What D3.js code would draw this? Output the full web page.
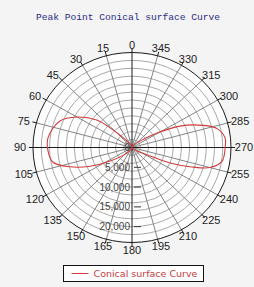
<!DOCTYPE html>
<html>
<head>
<meta charset="utf-8">
<script src="https://cdn.jsdelivr.net/npm/d3@7"></script>
<style>
  html, body { margin: 0; padding: 0; background: #f4f4f4; }
  #chart { width: 254px; height: 287px; }
</style>
</head>
<body>
<div id="chart"></div>
<script>
// angle labels around the rim (degrees, counter-clockwise from top)
const angleLabels = [0, 15, 30, 45, 60, 75, 90, 105, 120, 135, 150, 165, 180, 195, 210, 225, 240, 255, 270, 285, 300, 315, 330, 345];
// grid rings and radial axis labels
const gridRings = [2000, 4000, 6000, 8000, 10000, 12000, 14000, 16000, 18000, 20000, 22000, 24000];
const radialTicks = [0, 5000, 10000, 15000, 20000];
// curve
const curveAngles = [0, 15, 30, 36, 46, 51, 60, 69, 83, 92, 101, 108, 115, 123, 139, 155, 170, 180,
                     195, 215, 234, 244, 247, 251, 255, 261, 270, 276, 283, 288, 295, 301, 310, 325, 345];
const curveValues = [0, 300, 1200, 2000, 6400, 11000, 15400, 18700, 20500, 20400, 19500, 15800, 11200, 6300, 1800, 500, 200, 0,
                     200, 500, 1500, 4900, 10000, 14900, 19600, 22100, 22600, 22700, 21200, 18100, 12800, 7100, 2500, 800, 200];

class PolarChart {

    constructor(parentElement) {
        this.parentElement = parentElement
        this.initVis()
    }

    initVis() {
        let vis = this;

        vis.width = 254;
        vis.height = 287;
        vis.cx = 132;
        vis.cy = 147.5;
        vis.rx = 99;
        vis.ry = 95;

        vis.svg = d3.select("#" + vis.parentElement).append("svg")
            .attr("width", vis.width)
            .attr("height", vis.height);

        vis.r = d3.scaleLinear().domain([0, 24000]).range([0, 1]);
        vis.rad = d => d * Math.PI / 180;
        vis.px = (a, v) => vis.cx - vis.rx * vis.r(v) * Math.sin(vis.rad(a));
        vis.py = (a, v) => vis.cy - vis.ry * vis.r(v) * Math.cos(vis.rad(a));

        // Title
        vis.svg.append("text")
            .attr("x", 128)
            .attr("y", 20)
            .attr("text-anchor", "middle")
            .attr("font-family", "Liberation Mono, monospace")
            .attr("font-size", 9.6)
            .attr("fill", "#2a2a8c")
            .text("Peak Point Conical surface Curve");

        // plot background
        vis.svg.append("ellipse")
            .attr("cx", vis.cx).attr("cy", vis.cy)
            .attr("rx", vis.rx).attr("ry", vis.ry)
            .attr("fill", "#ffffff");

        // rings
        vis.svg.selectAll(".ring").data(gridRings.slice(0, -1)).enter().append("ellipse")
            .attr("class", "ring")
            .attr("cx", vis.cx).attr("cy", vis.cy)
            .attr("rx", d => vis.rx * vis.r(d))
            .attr("ry", d => vis.ry * vis.r(d))
            .attr("fill", "none")
            .attr("stroke", "#a8a8a8")
            .attr("stroke-width", 1);

        // spokes
        vis.svg.selectAll(".spoke").data(angleLabels.filter(a => a % 90 != 0)).enter().append("line")
            .attr("class", "spoke")
            .attr("x1", vis.cx).attr("y1", vis.cy)
            .attr("x2", d => vis.px(d, 24000))
            .attr("y2", d => vis.py(d, 24000))
            .attr("stroke", "#858585")
            .attr("stroke-width", 1);

        // main axes
        vis.svg.selectAll(".axis").data([0, 90]).enter().append("line")
            .attr("class", "axis")
            .attr("x1", d => vis.px(d, 24000))
            .attr("y1", d => vis.py(d, 24000))
            .attr("x2", d => vis.px(d + 180, 24000))
            .attr("y2", d => vis.py(d + 180, 24000))
            .attr("stroke", "#1a1a1a")
            .attr("stroke-width", 1);

        // outer ring + rim ticks
        vis.svg.append("ellipse")
            .attr("cx", vis.cx).attr("cy", vis.cy)
            .attr("rx", vis.rx).attr("ry", vis.ry)
            .attr("fill", "none")
            .attr("stroke", "#1a1a1a")
            .attr("stroke-width", 1);

        vis.svg.selectAll(".rimtick").data(angleLabels).enter().append("line")
            .attr("x1", d => vis.px(d, 24000))
            .attr("y1", d => vis.py(d, 24000))
            .attr("x2", d => vis.px(d, 25000))
            .attr("y2", d => vis.py(d, 25000))
            .attr("stroke", "#1a1a1a");

        // angle labels
        vis.svg.selectAll(".alabel").data(angleLabels).enter().append("text")
            .attr("x", d => vis.cx - (vis.rx + 13) * Math.sin(vis.rad(d)))
            .attr("y", d => vis.cy - (vis.ry + 7.5) * Math.cos(vis.rad(d)))
            .attr("dy", "0.35em")
            .attr("text-anchor", "middle")
            .attr("font-family", "Liberation Sans, Arial, sans-serif")
            .attr("font-size", 11)
            .attr("fill", "#222")
            .text(d => d);

        // radial axis ticks + labels
        vis.svg.selectAll(".rtick").data(radialTicks.slice(1)).enter().append("line")
            .attr("x1", vis.cx + 2).attr("x2", vis.cx + 9)
            .attr("y1", d => vis.py(180, d))
            .attr("y2", d => vis.py(180, d))
            .attr("stroke", "#333");

        vis.svg.selectAll(".rlabel").data(radialTicks).enter().append("text")
            .attr("x", vis.cx - 2)
            .attr("y", d => vis.py(180, d))
            .attr("dy", "0.35em")
            .attr("text-anchor", "end")
            .attr("font-family", "Liberation Sans, Arial, sans-serif")
            .attr("font-size", 10)
            .attr("fill", "#444")
            .text(d => d3.format(",")(d));

        // curve
        vis.line = d3.line()
            .x((d, i) => vis.px(curveAngles[i], d))
            .y((d, i) => vis.py(curveAngles[i], d))
            .curve(d3.curveCatmullRomClosed.alpha(0.5));

        vis.svg.append("path")
            .datum(curveValues)
            .attr("d", vis.line)
            .attr("fill", "none")
            .attr("stroke", "#d03c3c")
            .attr("stroke-width", 1.1);

        // legend
        vis.legend = vis.svg.append("g")
            .attr("transform", "translate(63.5, 265.5)");

        vis.legend.append("rect")
            .attr("width", 140)
            .attr("height", 16)
            .attr("fill", "#fff")
            .attr("stroke", "#111");

        vis.legend.append("line")
            .attr("x1", 8).attr("x2", 25)
            .attr("y1", 8).attr("y2", 8)
            .attr("stroke", "#d03c3c");

        vis.legend.append("text")
            .attr("x", 30)
            .attr("y", 8)
            .attr("dy", "0.35em")
            .attr("font-family", "DejaVu Sans, sans-serif")
            .attr("font-size", 9.5)
            .attr("fill", "#c83c3c")
            .text("Conical surface Curve");
    }
}

new PolarChart("chart");
</script>
</body>
</html>
